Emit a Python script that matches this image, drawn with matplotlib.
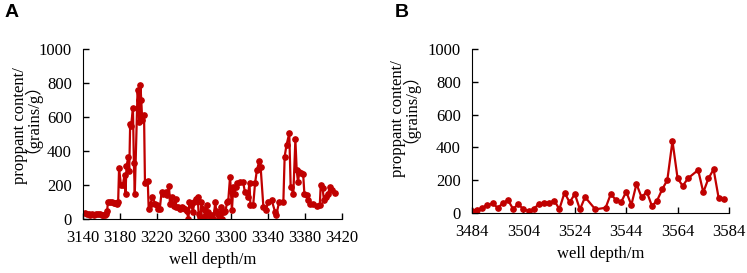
import matplotlib.pyplot as plt
import numpy as np

# panel A: well depth (m) and proppant content (grains/g)
depth_a = [3142, 3144, 3146, 3148, 3150, 3152, 3154, 3156, 3158, 3160, 3162, 3164, 3165, 3166,
           3167, 3169, 3171, 3173, 3175, 3177, 3178, 3179, 3181, 3183, 3185, 3186, 3187, 3189,
           3190, 3191, 3192, 3194, 3195, 3196, 3199, 3200, 3201, 3202, 3203, 3204, 3206, 3207,
           3208, 3210, 3211, 3213, 3215, 3218, 3220, 3221, 3223, 3225, 3227, 3230, 3231, 3233,
           3234, 3236, 3238, 3240, 3241, 3243, 3245, 3247, 3248, 3250, 3252, 3254, 3255, 3257,
           3259, 3260, 3262, 3264, 3265, 3267, 3268, 3270, 3272, 3274, 3275, 3277, 3279, 3281,
           3283, 3284, 3286, 3287, 3289, 3290, 3292, 3294, 3296, 3297, 3299, 3301, 3302.5, 3304,
           3305, 3307, 3310, 3313, 3315, 3318, 3320, 3321, 3324, 3326, 3328, 3330.6, 3332, 3335,
           3338, 3340, 3344, 3347.6, 3349, 3352, 3356.6, 3358, 3360, 3363, 3364.5, 3367.4, 3369.6,
           3371, 3372.4, 3374, 3376, 3378, 3379.3, 3382, 3383.6, 3385.4, 3389, 3393, 3396, 3397,
           3399, 3400.5, 3403, 3405, 3407, 3409, 3412]
content_a = [37, 30, 28, 25, 27, 25, 28, 27, 28, 26, 25, 22, 30, 45,
             100, 100, 100, 95, 95, 90, 100, 300, 200, 200, 260, 150, 310, 365,
             280, 560, 550, 650, 330, 150, 760, 700, 570, 790, 700, 580, 610, 210,
             215, 225, 60, 90, 130, 90, 80, 60, 60, 160, 150, 160, 140, 195,
             90, 130, 75, 115, 70, 70, 60, 70, 65, 60, 50, 0, 100, 80,
             40, 100, 120, 130, 30, 10, 100, 60, 20, 85, 40, 15, 25, 0,
             100, 50, 30, 5, 70, 0, 40, 50, 100, 105, 250, 52, 190, 150,
             190, 210, 220, 220, 160, 130, 210, 82, 82, 210, 288, 340, 308, 72,
             53, 100, 110, 43, 24, 100, 100, 367, 435, 504, 190, 150, 468,
             288, 220, 278, 270, 265, 150, 140, 110, 90, 88, 76, 82, 200,
             180, 110, 130, 150, 190, 170, 155]

# panel B
depth_b = [3484, 3486, 3488, 3490, 3492, 3494, 3496, 3498, 3500, 3502, 3504, 3506, 3508, 3510,
           3512, 3514, 3516, 3518, 3520, 3522, 3524, 3526, 3528, 3532, 3536, 3538, 3540, 3542,
           3544, 3546, 3548, 3550, 3552, 3554, 3556, 3558, 3560, 3562, 3564, 3566, 3568, 3572,
           3574, 3576, 3578, 3580, 3582]
content_b = [15, 18, 32, 49, 59, 32, 59, 79, 24, 55, 22, 14, 24, 55,
             59, 63, 75, 24, 124, 65, 116, 22, 97, 22, 32, 116, 79, 65,
             130, 49, 177, 95, 130, 43, 75, 144, 201, 439, 211, 165, 211, 262,
             126, 211, 266, 89, 85]

xticks_a = np.arange(3140, 3421, 40)
xticks_b = np.arange(3484, 3585, 20)
yticks = np.arange(0, 1001, 200)
ylabel_lines = ["proppant content/", "（grains/g）"]

plt.rcParams['font.family'] = ['Liberation Serif', 'Noto Sans CJK SC']
plt.rcParams['font.size'] = 12

fig = plt.figure(figsize=(7.47, 2.73), dpi=100)
W, H = 747, 273
ax_a = fig.add_axes([83 / W, (H - 219) / H, 259 / W, 170 / H])
ax_b = fig.add_axes([472 / W, (H - 213) / H, 257 / W, 164 / H])

red = "#c00000"
for ax, x, y, xt in [(ax_a, depth_a, content_a, xticks_a),
                     (ax_b, depth_b, content_b, xticks_b)]:
    ax.plot(x, y, color=red, lw=1.6, marker="o", ms=3.8)
    ax.set_xlim(xt[0], xt[-1])
    ax.set_ylim(0, 1000)
    ax.set_xticks(xt)
    ax.set_yticks(yticks)
    ax.spines["top"].set_visible(False)
    ax.spines["right"].set_visible(False)
    ax.tick_params(direction="in", length=4.5, width=1, pad=8, labelsize=12)
    ax.set_xlabel("well depth/m", fontsize=12)

# two-line y labels, one text per line (offsets tuned for the mixed-font second line)
for (x1, y1), (x2, y2) in [((24.5, 126), (28.5, 110)), ((402, 119), (406, 100))]:
    fig.text(x1 / W, 1 - y1 / H, ylabel_lines[0], rotation=90, rotation_mode="anchor",
             ha="center", va="baseline", fontsize=12)
    fig.text(x2 / W, 1 - y2 / H, ylabel_lines[1], rotation=90, rotation_mode="anchor",
             ha="center", va="baseline", fontsize=12)

fig.text(5 / W, 1 - 17 / H, "A", fontsize=14, fontweight="bold", family="Liberation Sans")
fig.text(395 / W, 1 - 17 / H, "B", fontsize=14, fontweight="bold", family="Liberation Sans")

plt.savefig("out.png", dpi=100)
